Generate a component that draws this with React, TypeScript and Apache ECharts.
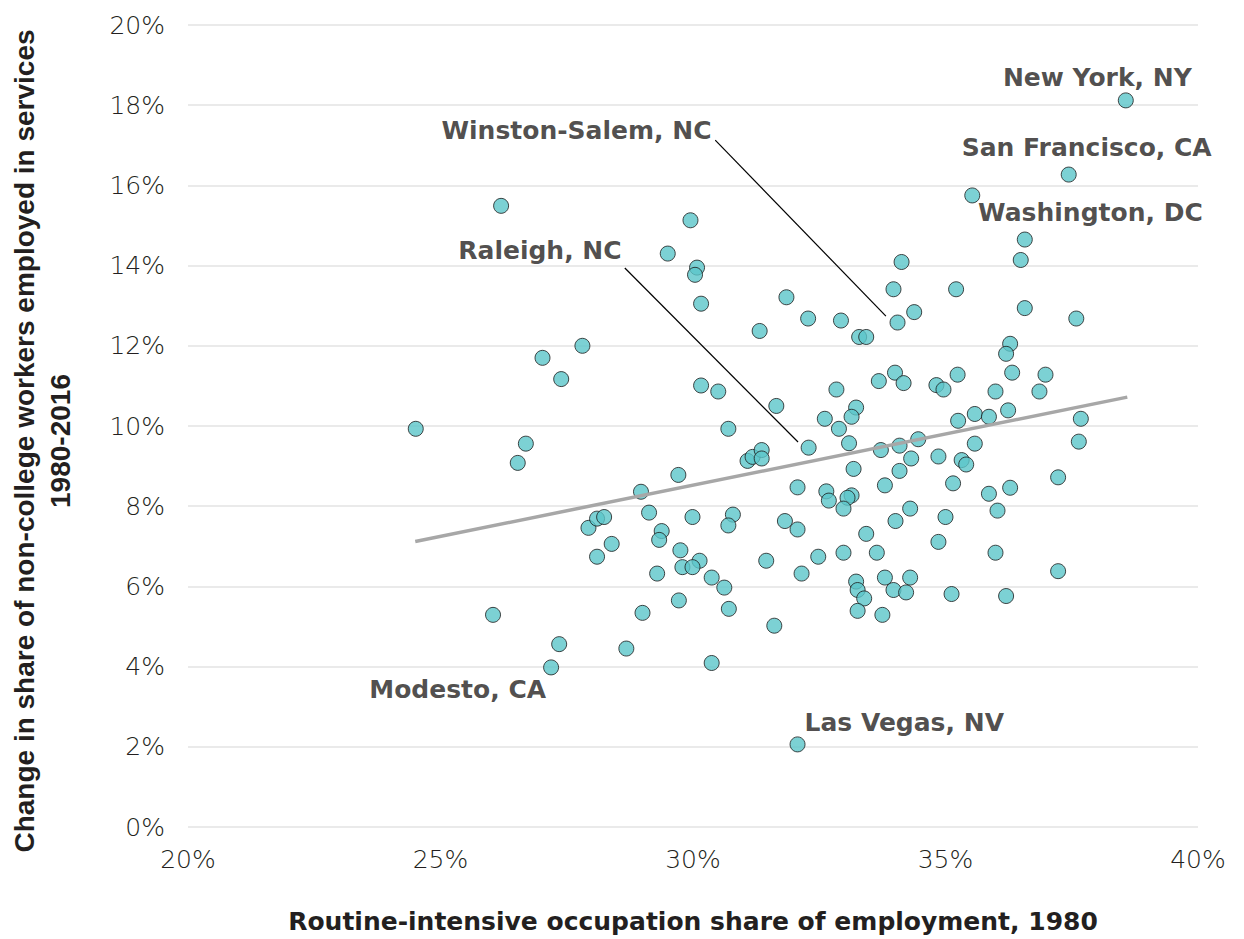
import React, { useEffect, useRef } from "react";
import * as echarts from "echarts";

// Routine-intensive occupation share of employment, 1980 (%)
const routineShare: number[] = [
  24.51, 26.2, 26.04, 26.69, 26.53, 27.35, 28.68, 27.93, 28.1, 28.24, 28.39, 28.1, 28.97, 29.13, 29.38,
  29.33, 29.71, 29.75, 29.29, 29.99, 29.79, 30.13, 29.99, 30.37, 30.62, 30.71, 30.79, 30.7, 31.82, 32.07,
  31.45, 31.61, 30.37, 29.72, 29.0, 31.08, 31.18, 31.36, 31.36, 32.07, 32.15, 29.95, 29.5, 30.08, 30.04,
  30.16, 31.85, 31.32, 27.81, 27.02, 27.39, 30.16, 30.5, 31.65, 30.7, 35.53, 36.49, 34.13, 33.97, 35.21,
  34.38, 36.57, 37.59, 32.28, 32.93, 33.29, 33.43, 36.28, 36.2, 34.0, 33.68, 34.17, 35.24, 36.32, 36.98,
  34.82, 34.96, 32.84, 35.99, 36.86, 33.23, 33.14, 32.61, 32.89, 35.58, 35.86, 36.24, 35.25, 37.68, 37.64,
  33.09, 33.72, 34.09, 34.46, 35.58, 34.32, 34.86, 35.32, 35.41, 33.18, 34.09, 32.64, 32.69, 33.14, 33.06,
  32.98, 33.8, 35.15, 35.86, 36.28, 37.23, 34.3, 34.01, 35.0, 36.03, 33.43, 34.86, 32.48, 32.98, 33.64,
  35.99, 33.23, 33.26, 33.39, 33.26, 33.75, 33.8, 34.3, 33.97, 34.22, 35.12, 36.2, 37.23,
];

// Change in share of non-college workers employed in services, 1980-2016 (%)
const serviceChange: number[] = [
  9.93, 15.49, 5.29, 9.56, 9.08, 4.56, 4.45, 7.46, 7.69, 7.73, 7.06, 6.74, 8.36, 7.84, 7.38,
  7.16, 8.78, 6.9, 6.32, 7.73, 6.48, 6.64, 6.48, 6.22, 5.97, 5.44, 7.79, 7.52, 7.63, 7.42,
  6.64, 5.02, 4.09, 5.65, 5.34, 9.13, 9.23, 9.4, 9.19, 8.47, 6.32, 15.13, 14.3, 13.95, 13.77,
  13.05, 13.21, 12.37, 12.0, 11.7, 11.17, 11.01, 10.86, 10.5, 9.93, 15.75, 14.14, 14.09, 13.41, 13.41,
  12.84, 12.94, 12.68, 12.68, 12.63, 12.22, 12.22, 12.05, 11.8, 11.33, 11.12, 11.07, 11.28, 11.33, 11.28,
  11.02, 10.91, 10.91, 10.86, 10.86, 10.46, 10.23, 10.18, 9.93, 10.3, 10.23, 10.39, 10.13, 10.18, 9.61,
  9.57, 9.4, 9.51, 9.67, 9.56, 9.19, 9.24, 9.15, 9.04, 8.93, 8.88, 8.37, 8.14, 8.27, 8.21,
  7.94, 8.52, 8.57, 8.31, 8.46, 8.72, 7.94, 7.63, 7.73, 7.89, 7.31, 7.11, 6.74, 6.84, 6.84,
  6.84, 6.12, 5.91, 5.7, 5.39, 5.29, 6.22, 6.22, 5.91, 5.85, 5.81, 5.76, 6.38,
];

// Labelled metro areas
const cityNames: string[] = [
  "New York, NY",
  "San Francisco, CA",
  "Washington, DC",
  "Winston-Salem, NC",
  "Raleigh, NC",
  "Modesto, CA",
  "Las Vegas, NV",
];
const cityShare: number[] = [38.57, 37.44, 36.57, 34.05, 32.29, 27.19, 32.07];
const cityChange: number[] = [18.12, 16.27, 14.65, 12.58, 9.46, 3.98, 2.06];

// Fitted trend line end points
const trendX: number[] = [24.5, 38.6];
const trendY: number[] = [7.12, 10.72];

// Leader lines (from label to point)
const winstonLeaderX: number[] = [30.44, 33.82];
const winstonLeaderY: number[] = [17.13, 12.74];
const raleighLeaderX: number[] = [28.65, 32.08];
const raleighLeaderY: number[] = [13.94, 9.6];

const xTicks = { min: 20, max: 40, interval: 5 };
const yTicks = { min: 0, max: 20, interval: 2 };

// label placement (style only): [align, dx, dy]
const labelPlacement: [string, number, number][] = [
  ["right", 66, -23],
  ["right", 143, -27],
  ["right", 178, -27],
  ["right", -186, -192],
  ["right", -187, -197],
  ["right", -5, 22],
  ["left", 7, -22],
];

const BOLD_FONT = "'DejaVu Sans', sans-serif";
const NARROW_FONT = "'Liberation Sans Narrow', 'Liberation Sans', sans-serif";
const TICK_FONT = "'DejaVu Sans ExtraLight', 'DejaVu Sans', sans-serif";
const DOT = "#5bc6c9";
const INK = "#231f20";

export default function App() {
  const ref = useRef<HTMLDivElement>(null);

  useEffect(() => {
    if (!ref.current) return;
    const chart = echarts.init(ref.current, undefined, { renderer: "svg" });

    const mainData = routineShare.map((x, i) => [x, serviceChange[i]]);
    const cityData = cityNames.map((name, i) => {
      const [align, dx, dy] = labelPlacement[i];
      return {
        name,
        value: [cityShare[i], cityChange[i]],
        label: {
          show: true,
          position: "inside",
          align,
          verticalAlign: "middle",
          offset: [dx, dy],
          formatter: name,
          fontFamily: BOLD_FONT,
          fontWeight: "bold",
          fontSize: 25,
          color: INK,
        },
      };
    });

    const leader = (xs: number[], ys: number[]) => ({
      type: "line",
      data: xs.map((x, i) => [x, ys[i]]),
      symbol: "none",
      lineStyle: { color: "#000", width: 1.2 },
      silent: true,
      z: 1,
    });

    const tickLabel = {
      formatter: "{value}%",
      fontFamily: TICK_FONT,
      fontWeight: 200,
      fontSize: 25,
      color: INK,
    };

    chart.setOption({
      animation: false,
      grid: { left: 188, right: 46, top: 25, bottom: 112, outerBoundsMode: "none", containLabel: false },
      xAxis: {
        type: "value",
        ...xTicks,
        name: "Routine-intensive occupation share of employment, 1980",
        nameLocation: "middle",
        nameGap: 82,
        nameTextStyle: { fontFamily: BOLD_FONT, fontWeight: "bold", fontSize: 25, color: INK },
        axisLine: { show: false },
        axisTick: { show: false },
        splitLine: { show: false },
        axisLabel: { ...tickLabel, margin: 20 },
      },
      yAxis: {
        type: "value",
        ...yTicks,
        name: "Change in share of non-college workers employed in services\n1980-2016",
        nameLocation: "middle",
        nameRotate: 90,
        nameGap: 110,
        nameTextStyle: {
          fontFamily: NARROW_FONT,
          fontWeight: "bold",
          fontSize: 28,
          color: INK,
          lineHeight: 36,
          padding: [0, 30, 0, 0],
        },
        axisLine: { show: false },
        axisTick: { show: false },
        splitLine: { show: true, lineStyle: { color: "#e3e3e3", width: 1.5 } },
        axisLabel: { ...tickLabel, margin: 23 },
      },
      series: [
        {
          type: "line",
          data: trendX.map((x, i) => [x, trendY[i]]),
          symbol: "none",
          lineStyle: { color: "#a7a7a7", width: 3.5 },
          silent: true,
          z: 3,
        },
        leader(winstonLeaderX, winstonLeaderY),
        leader(raleighLeaderX, raleighLeaderY),
        {
          type: "scatter",
          data: mainData,
          symbolSize: 15,
          itemStyle: { color: DOT, borderColor: "#1a1a1a", borderWidth: 1 },
          z: 2,
        },
        {
          type: "scatter",
          data: cityData,
          symbolSize: 15,
          itemStyle: { color: DOT, borderColor: "#1a1a1a", borderWidth: 1 },
          z: 4,
        },
      ],
    });

    return () => chart.dispose();
  }, []);

  return (
    <div
      ref={ref}
      style={{ position: "fixed", left: 0, top: 0, width: 1244, height: 939, background: "#fff" }}
    />
  );
}
